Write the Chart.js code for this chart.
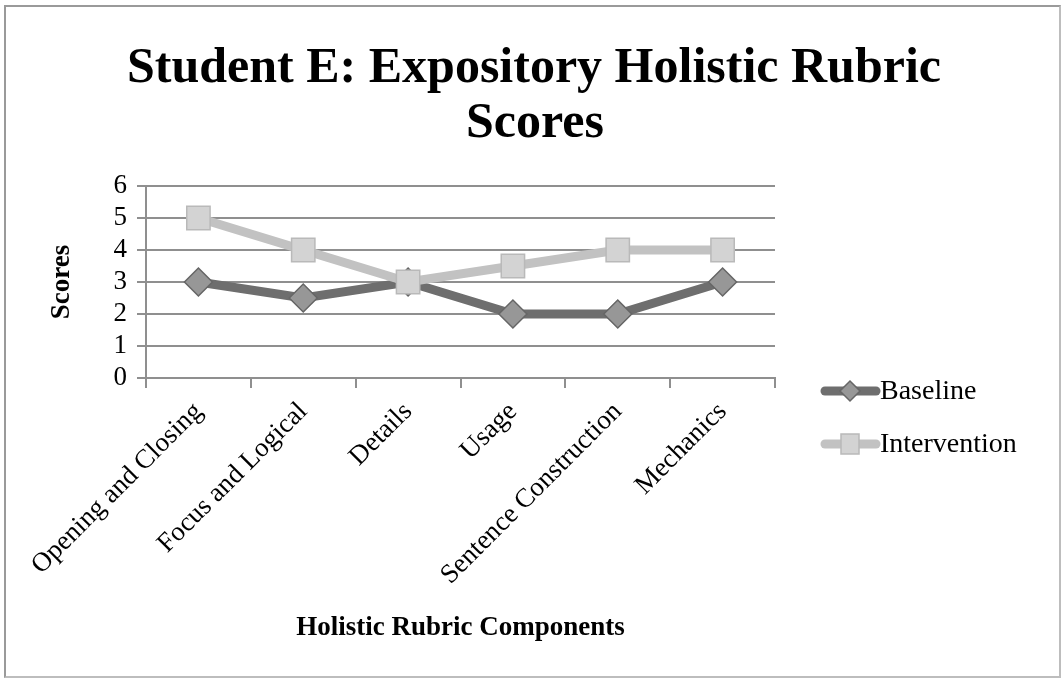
<!DOCTYPE html>
<html>
<head>
<meta charset="utf-8">
<script src="https://cdn.jsdelivr.net/npm/chart.js@4"></script>
<style>
  html, body { margin: 0; padding: 0; background: #fff; }
  #frame { position: absolute; left: 4px; top: 5px; width: 1053px; height: 669px;
    border-left: 2px solid #9a9a9a; border-top: 2px solid #9a9a9a;
    border-right: 2px solid #bdbdbd; border-bottom: 2px solid #bdbdbd; }
  #wrap { position: absolute; left: 0; top: 0; width: 1061px; height: 679px; }
</style>
</head>
<body>
<div id="frame"></div>
<div id="wrap"><canvas id="c" width="1061" height="679"></canvas></div>
<script>
const categories = ["Opening and Closing", "Focus and Logical", "Details", "Usage", "Sentence Construction", "Mechanics"];
const baseline = [3, 2.5, 3, 2, 2, 3];
const intervention = [5, 4, 3, 3.5, 4, 4];
const yTicks = [0, 1, 2, 3, 4, 5, 6];
const titleLines = ["Student E: Expository Holistic Rubric", "Scores"];
const seriesNames = ["Baseline", "Intervention"];
const xAxisTitle = "Holistic Rubric Components";
const yAxisTitle = "Scores";

const serif = "'Liberation Serif', 'DejaVu Serif', serif";

const titlePlugin = {
  id: 'customTitle',
  afterDraw(chart) {
    const ctx = chart.ctx;
    ctx.save();
    ctx.fillStyle = '#000';
    ctx.font = "bold 50px " + serif;
    ctx.textAlign = 'center';
    ctx.textBaseline = 'alphabetic';
    ctx.fillText(titleLines[0], 534, 82);
    ctx.fillText(titleLines[1], 535, 137);
    ctx.restore();
  }
};

const legendPlugin = {
  id: 'customLegend',
  afterDraw(chart) {
    const ctx = chart.ctx;
    const items = [
      { y: 391, ds: chart.data.datasets[0] },
      { y: 444, ds: chart.data.datasets[1] }
    ];
    items.forEach(it => {
      const ds = it.ds;
      ctx.save();
      ctx.strokeStyle = ds.borderColor;
      ctx.lineWidth = 9;
      ctx.lineCap = 'round';
      ctx.beginPath();
      ctx.moveTo(825, it.y);
      ctx.lineTo(876, it.y);
      ctx.stroke();
      ctx.fillStyle = ds.pointBackgroundColor;
      ctx.strokeStyle = ds.pointBorderColor;
      ctx.lineWidth = 1.5;
      ctx.beginPath();
      if (ds.pointStyle === 'rectRot') {
        const r = 10;
        ctx.moveTo(850, it.y - r); ctx.lineTo(850 + r, it.y); ctx.lineTo(850, it.y + r); ctx.lineTo(850 - r, it.y); ctx.closePath();
      } else {
        ctx.rect(841, it.y - 10, 18, 20);
      }
      ctx.fill(); ctx.stroke();
      ctx.fillStyle = '#000';
      ctx.font = "28px " + serif;
      ctx.textBaseline = 'middle';
      ctx.textAlign = 'left';
      ctx.fillText(ds.label, 880, it.y + 1);
      ctx.restore();
    });
  }
};

new Chart(document.getElementById('c'), {
  type: 'line',
  data: {
    labels: categories,
    datasets: [
      {
        label: seriesNames[0], data: baseline,
        borderColor: '#6e6e6e', borderWidth: 9,
        pointStyle: 'rectRot', pointRadius: 14, pointHoverRadius: 14,
        pointBackgroundColor: '#979797', pointBorderColor: '#666666', pointBorderWidth: 1.5,
        tension: 0, order: 2
      },
      {
        label: seriesNames[1], data: intervention,
        borderColor: '#c2c2c2', borderWidth: 9,
        pointStyle: 'rect', pointRadius: 16.5, pointHoverRadius: 16.5,
        pointBackgroundColor: '#d3d3d3', pointBorderColor: '#b9b9b9', pointBorderWidth: 1.5,
        tension: 0, order: 1
      }
    ]
  },
  options: {
    responsive: false,
    animation: false,
    events: [],
    layout: { padding: { left: 20, right: 286, top: 186, bottom: 0 } },
    plugins: {
      legend: { display: false },
      tooltip: { enabled: false },
      title: { display: false }
    },
    scales: {
      x: {
        offset: true,
        afterFit(scale) { scale.height = 301; },
        grid: { display: true, drawOnChartArea: false, drawTicks: true, tickLength: 10, offset: true, color: '#8f8f8f', lineWidth: 2 },
        border: { display: true, color: '#8f8f8f', width: 2 },
        ticks: { color: '#000', font: { family: serif, size: 27 }, maxRotation: 45, minRotation: 45, padding: 8, autoSkip: false },
        title: { display: true, text: xAxisTitle, color: '#000', font: { family: serif, size: 27, weight: 'bold' }, padding: { top: 4, bottom: 35 } }
      },
      y: {
        min: 0, max: 6,
        afterFit(scale) { scale.width = 126; },
        afterBuildTicks(scale) { scale.ticks = yTicks.map(v => ({ value: v })); },
        grid: { color: '#8f8f8f', lineWidth: 2, tickLength: 9 },
        border: { display: true, color: '#8f8f8f', width: 2 },
        ticks: { color: '#000', font: { family: serif, size: 27, lineHeight: 1 }, padding: 10, autoSkip: false },
        title: { display: true, text: yAxisTitle, color: '#000', font: { family: serif, size: 27, weight: 'bold' }, padding: { top: 26, bottom: 4 } }
      }
    }
  },
  plugins: [titlePlugin, legendPlugin]
});
</script>
</body>
</html>
